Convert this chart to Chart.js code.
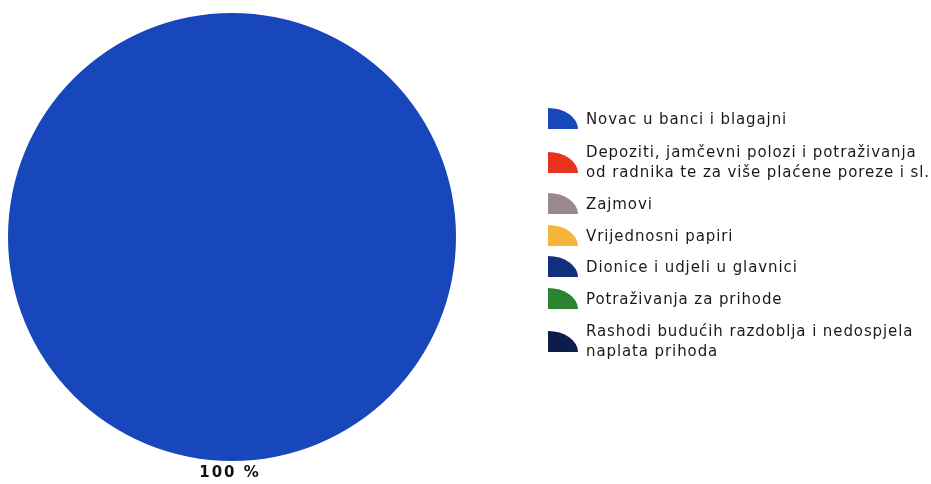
<!DOCTYPE html>
<html><head><meta charset="utf-8">
<script src="https://cdn.jsdelivr.net/npm/chart.js@4/dist/chart.umd.min.js"></script>
<style>
html,body{margin:0;padding:0;background:#fff;}
#wrap{position:relative;width:931px;height:484px;overflow:hidden;}
#c{position:absolute;left:0;top:0;}
#legend{position:absolute;left:0;top:0;width:931px;height:484px;font-family:"DejaVu Sans",sans-serif;font-size:15px;color:#1a1a1a;letter-spacing:0.9px;}
.row{position:absolute;left:548px;display:flex;align-items:center;}
.ic{width:30px;height:21px;border-top-right-radius:100% 100%;flex:0 0 30px;margin-right:8px;}
.tx{line-height:20px;white-space:nowrap;}
</style></head>
<body><div id="wrap"><canvas id="c" width="931" height="484"></canvas><div id="legend"></div></div>
<script>
const categories = [
  "Novac u banci i blagajni",
  "Depoziti, jamčevni polozi i potraživanja\nod radnika te za više plaćene poreze i sl.",
  "Zajmovi",
  "Vrijednosni papiri",
  "Dionice i udjeli u glavnici",
  "Potraživanja za prihode",
  "Rashodi budućih razdoblja i nedospjela\nnaplata prihoda"
];
const values = [100, 0, 0, 0, 0, 0, 0];
const colors = ["#1747ba", "#e8321e", "#9a8890", "#f4b53a", "#13307f", "#2c8430", "#0e1c4c"];
const dataLabels = ["100 %", "", "", "", "", "", ""];
const rowTops = [108, 142, 193, 225, 256, 288, 321];

const legend = document.getElementById('legend');
categories.forEach((c, i) => {
  const r = document.createElement('div'); r.className = 'row';
  r.style.top = rowTops[i] + 'px';
  const ic = document.createElement('div'); ic.className = 'ic'; ic.style.background = colors[i];
  const tx = document.createElement('div'); tx.className = 'tx';
  tx.innerHTML = c.split('\n').join('<br>');
  r.appendChild(ic); r.appendChild(tx); legend.appendChild(r);
});

const labelPlugin = {
  id: 'outLabels',
  afterDatasetsDraw(chart) {
    const ctx = chart.ctx;
    const meta = chart.getDatasetMeta(0);
    meta.data.forEach((arc, i) => {
      if (!dataLabels[i]) return;
      ctx.save();
      ctx.font = 'bold 15px "DejaVu Sans", sans-serif';
      ctx.letterSpacing = '2px';
      ctx.fillStyle = '#111';
      ctx.textAlign = 'center';
      ctx.textBaseline = 'middle';
      ctx.fillText(dataLabels[i], arc.x - 2, arc.y + arc.outerRadius + 12);
      ctx.restore();
    });
  }
};

new Chart(document.getElementById('c'), {
  type: 'pie',
  data: { labels: categories, datasets: [{ data: values, backgroundColor: colors, borderWidth: 0 }] },
  options: {
    responsive: false, animation: false,
    layout: { padding: { left: 8, top: 13, right: 475, bottom: 23 } },
    plugins: { legend: { display: false }, tooltip: { enabled: false } }
  },
  plugins: [labelPlugin]
});
</script></body></html>
